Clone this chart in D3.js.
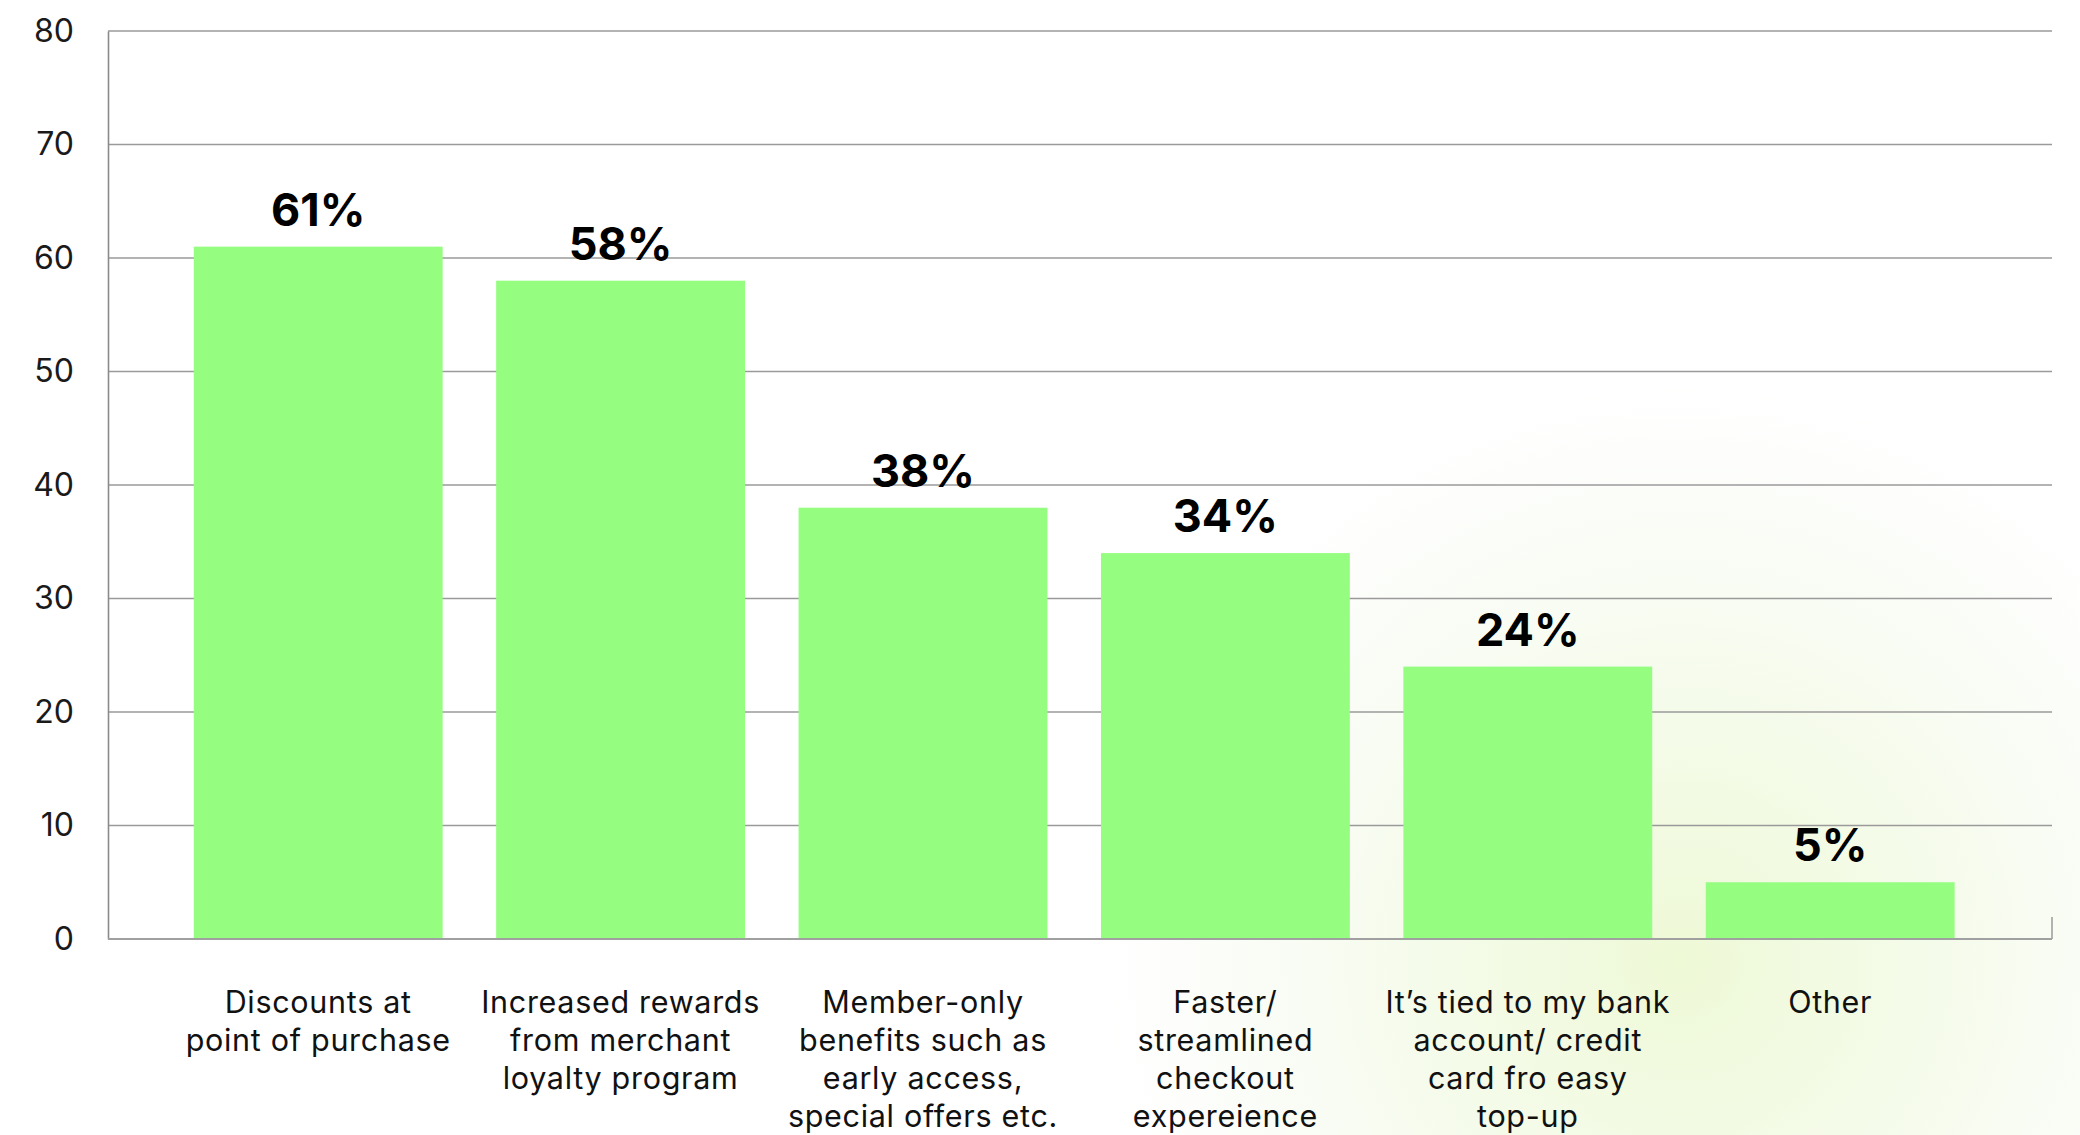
<!DOCTYPE html>
<html>
<head>
<meta charset="utf-8">
<script src="https://cdn.jsdelivr.net/npm/d3@7"></script>
<style>
  html, body { margin: 0; padding: 0; background: #fff; }
  svg { display: block; }
</style>
</head>
<body>
<svg id="chart" width="2080" height="1135"></svg>
<script>
const categories = [
  "Discounts at point of purchase",
  "Increased rewards from merchant loyalty program",
  "Member-only benefits such as early access, special offers etc.",
  "Faster/ streamlined checkout expereience",
  "It’s tied to my bank account/ credit card fro easy top-up",
  "Other"
];
const categoryLines = [
  ["Discounts at", "point of purchase"],
  ["Increased rewards", "from merchant", "loyalty program"],
  ["Member-only", "benefits such as", "early access,", "special offers etc."],
  ["Faster/", "streamlined", "checkout", "expereience"],
  ["It’s tied to my bank", "account/ credit", "card fro easy", "top-up"],
  ["Other"]
];
const values = [61, 58, 38, 34, 24, 5];
const valueLabels = ["61%", "58%", "38%", "34%", "24%", "5%"];
const yTicks = [0, 10, 20, 30, 40, 50, 60, 70, 80];

const W = 2080, H = 1135;
const plot = { left: 108, right: 2052, top: 31, bottom: 939 };
const svg = d3.select("#chart");
const font = "Inter, 'Noto Sans', sans-serif";

// background glow
const defs = svg.append("defs");
const rg = defs.append("radialGradient").attr("id", "glow")
  .attr("gradientUnits", "userSpaceOnUse")
  .attr("cx", 1680).attr("cy", 960).attr("r", 620);
rg.append("stop").attr("offset", 0).attr("stop-color", "#eef9d6").attr("stop-opacity", 1);
rg.append("stop").attr("offset", 0.4).attr("stop-color", "#f2faE4").attr("stop-opacity", 0.8);
rg.append("stop").attr("offset", 0.75).attr("stop-color", "#f7fbf2").attr("stop-opacity", 0.5);
rg.append("stop").attr("offset", 1).attr("stop-color", "#ffffff").attr("stop-opacity", 0);
svg.append("rect").attr("width", W).attr("height", H).attr("fill", "#fff");
svg.append("rect").attr("width", W).attr("height", H).attr("fill", "url(#glow)");

const y = d3.scaleLinear().domain([0, 80]).range([plot.bottom, plot.top]);
const x = d3.scaleBand().domain(categories)
  .range([167, 167 + 6 * 302.4])
  .paddingInner(0.177).paddingOuter(0.0885);

// gridlines
svg.append("g").selectAll("line").data(yTicks.filter(d => d > 0)).join("line")
  .attr("x1", plot.left).attr("x2", plot.right)
  .attr("y1", d => y(d)).attr("y2", d => y(d))
  .attr("stroke", "#9a9a9a").attr("stroke-width", 1.6);

// y axis
const yAxis = svg.append("g").attr("transform", `translate(${plot.left},0)`)
  .call(d3.axisLeft(y).tickValues(yTicks).tickSize(0).tickPadding(34));
yAxis.select(".domain").attr("stroke", "#8a8a8a").attr("stroke-width", 1.6);
yAxis.selectAll("text").attr("font-family", font).attr("font-size", 32)
  .attr("fill", "#1a1a1a");

// bars
svg.append("g").selectAll("rect").data(values).join("rect")
  .attr("x", (d, i) => x(categories[i]))
  .attr("width", x.bandwidth())
  .attr("y", d => y(d))
  .attr("height", d => y(0) - y(d))
  .attr("fill", "#95fd80");

// x axis line
svg.append("line").attr("x1", plot.left).attr("x2", plot.right)
  .attr("y1", plot.bottom).attr("y2", plot.bottom)
  .attr("stroke", "#a0a0a0").attr("stroke-width", 2);
svg.append("line").attr("x1", plot.right).attr("x2", plot.right)
  .attr("y1", plot.bottom - 22).attr("y2", plot.bottom)
  .attr("stroke", "#a0a0a0").attr("stroke-width", 1.6);

// value labels
svg.append("g").selectAll("text").data(values).join("text")
  .attr("x", (d, i) => x(categories[i]) + x.bandwidth() / 2)
  .attr("y", d => y(d) - 21)
  .attr("text-anchor", "middle")
  .attr("font-family", font).attr("font-weight", 700).attr("font-size", 45)
  .attr("fill", "#000")
  .text((d, i) => valueLabels[i]);

// category labels
const cg = svg.append("g");
categoryLines.forEach((lines, i) => {
  const t = cg.append("text")
    .attr("x", x(categories[i]) + x.bandwidth() / 2)
    .attr("y", plot.bottom + 74)
    .attr("text-anchor", "middle")
    .attr("font-family", font).attr("font-size", 30.5)
    .attr("letter-spacing", 0.7)
    .attr("fill", "#111");
  lines.forEach((ln, k) => {
    t.append("tspan").attr("x", x(categories[i]) + x.bandwidth() / 2)
      .attr("dy", k === 0 ? 0 : 38).text(ln);
  });
});
</script>
</body>
</html>
